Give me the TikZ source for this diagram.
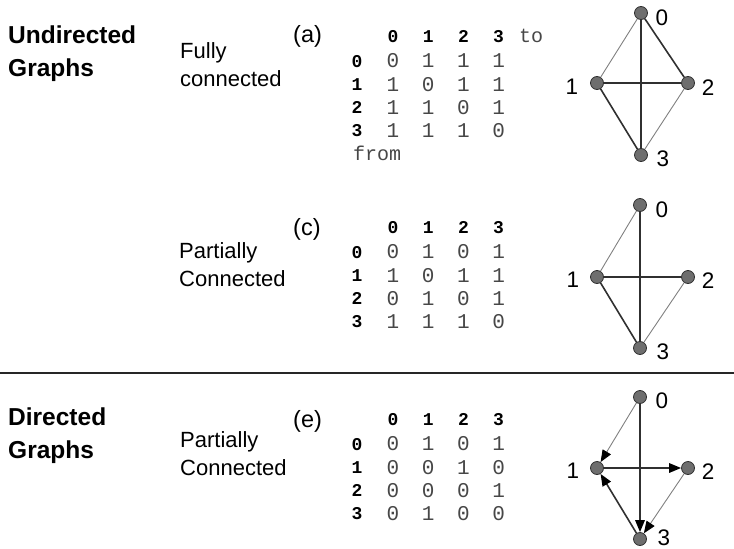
\documentclass[tikz,border=0pt]{standalone}
\usepackage{fontspec}
\setmainfont{Liberation Sans}
\newfontfamily\monofont{Liberation Mono}
\usetikzlibrary{arrows.meta}

\definecolor{vgray}{HTML}{6E6E6E}
\definecolor{edgedark}{HTML}{303030}
\definecolor{edgelight}{HTML}{808080}

% adjacency matrix: #1 name prefix, #2 y of the header row, #3 rows
\newcommand\adjmat[3]{%
  \foreach \h [count=\c from 0] in {0,1,2,3}
    \node[hdr] (#1-h\h) at ({393+35.2*\c},#2) {\h};
  \foreach \vals [count=\i from 0] in {#3} {
    \node[hdr] (#1-r\i) at (357,{#2+24.5+23.2*\i}) {\i};
    \foreach \v [count=\j from 0] in \vals
      \node[val] (#1-\i-\j) at ({393+35.2*\j},{#2+24.5+23.2*\i}) {\v};
  }%
}

\begin{document}
\begin{tikzpicture}[x=1pt,y=-1pt,
  heading/.style={anchor=base west, inner sep=0, font=\fontsize{24.5}{29}\selectfont\bfseries},
  caption/.style={anchor=base west, inner sep=0, font=\fontsize{22}{26}\selectfont},
  tag/.style={anchor=base west, inner sep=0, font=\fontsize{23.5}{27}\selectfont},
  hdr/.style={inner sep=0, text height=11pt, text depth=0pt, font=\monofont\bfseries\fontsize{18}{20}\selectfont},
  val/.style={inner sep=0, text height=12.6pt, text depth=0pt, text=black!72, font=\monofont\fontsize{21}{24}\selectfont},
  mword/.style={anchor=base west, inner sep=0, text=black!72, font=\monofont\fontsize{20}{24}\selectfont},
  vtx/.style={circle, fill=vgray, draw=edgedark, line width=0.8pt, minimum size=13pt, inner sep=0},
  vlbl/.style={inner sep=0, text height=16.1pt, text depth=0pt, font=\fontsize{22.5}{26}\selectfont},
  heavy/.style={line width=1.6pt, draw=edgedark},
  light/.style={line width=0.9pt, draw=edgelight},
  arr/.style={-{Triangle[length=12pt,width=9.5pt,color=black]}},
]
\useasboundingbox (0,0) rectangle (734,549);

% ---------------- section titles ----------------
\node[heading] (ug1) at (8,43) {Undirected};
\node[heading] (ug2) at (8,76) {Graphs};
\node[heading] (dg1) at (8,425) {Directed};
\node[heading] (dg2) at (8,458) {Graphs};

\coordinate (ruleL) at (0,373);
\coordinate (ruleR) at (734,373);
\draw[line width=2pt, draw=black!85] (ruleL) -- (ruleR);

% ---------------- (a) fully connected ----------------
\node[caption] (fa1) at (180,58) {Fully};
\node[caption] (fa2) at (180,86) {connected};
\node[tag] (ta) at (293,42) {(a)};
\adjmat{ma}{37}{{0,1,1,1},{1,0,1,1},{1,1,0,1},{1,1,1,0}}
\node[mword] (mato) at (519,42) {to};
\node[mword] (mafrom) at (353,160) {from};

\node[vtx] (a0) at (641,13) {};
\node[vtx] (a1) at (597,83) {};
\node[vtx] (a2) at (688,83) {};
\node[vtx] (a3) at (641,155) {};
\node[vlbl] (la0) at (662,17) {0};
\node[vlbl] (la1) at (572,86) {1};
\node[vlbl] (la2) at (708,87) {2};
\node[vlbl] (la3) at (663,158) {3};
\draw[light] (a0) -- (a1);
\draw[heavy] (a0) -- (a2);
\draw[heavy] (a0) -- (a3);
\draw[heavy] (a1) -- (a2);
\draw[heavy] (a1) -- (a3);
\draw[light] (a2) -- (a3);

% ---------------- (c) partially connected ----------------
\node[caption] (fc1) at (179,258) {Partially};
\node[caption] (fc2) at (179,286) {Connected};
\node[tag] (tc) at (293,235) {(c)};
\adjmat{mc}{228}{{0,1,0,1},{1,0,1,1},{0,1,0,1},{1,1,1,0}}

\node[vtx] (c0) at (640,205) {};
\node[vtx] (c1) at (597,277) {};
\node[vtx] (c2) at (688,277) {};
\node[vtx] (c3) at (640,348) {};
\node[vlbl] (lc0) at (662,209) {0};
\node[vlbl] (lc1) at (573,279) {1};
\node[vlbl] (lc2) at (708,280) {2};
\node[vlbl] (lc3) at (663,351) {3};
\draw[light] (c0) -- (c1);
\draw[heavy] (c0) -- (c3);
\draw[heavy] (c1) -- (c2);
\draw[heavy] (c1) -- (c3);
\draw[light] (c2) -- (c3);

% ---------------- (e) directed, partially connected ----------------
\node[caption] (fe1) at (180,447) {Partially};
\node[caption] (fe2) at (180,475) {Connected};
\node[tag] (te) at (293,427) {(e)};
\adjmat{me}{420}{{0,1,0,1},{0,0,1,0},{0,0,0,1},{0,1,0,0}}

\node[vtx] (e0) at (640,397) {};
\node[vtx] (e1) at (597,468) {};
\node[vtx] (e2) at (688,468) {};
\node[vtx] (e3) at (640,539) {};
\node[vlbl] (le0) at (662,400) {0};
\node[vlbl] (le1) at (573,470) {1};
\node[vlbl] (le2) at (708,471) {2};
\node[vlbl] (le3) at (664,537.5) {3};
\draw[light, arr] (e0) -- (e1);
\draw[heavy, arr] (e0) -- (e3);
\draw[heavy, arr] (e1) -- (e2);
\draw[light, arr] (e2) -- (e3);
\draw[heavy, arr] (e3) -- (e1);
\end{tikzpicture}
\end{document}
